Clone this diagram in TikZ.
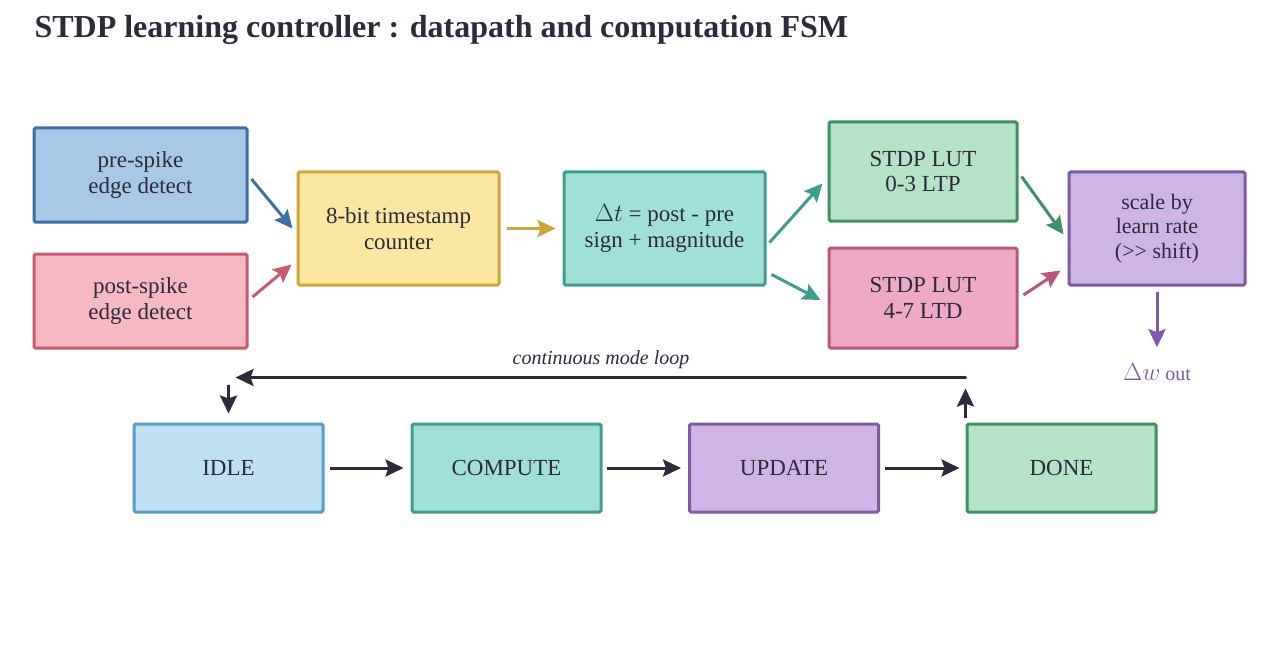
\documentclass[tikz,border=0pt]{standalone}
\usepackage{fontspec}
\setmainfont{Liberation Serif}
\usetikzlibrary{arrows.meta,calc}
\definecolor{txt}{HTML}{2B2B3B}
\definecolor{preF}{HTML}{A7C8E6}\definecolor{preD}{HTML}{3E6EA4}
\definecolor{postF}{HTML}{F6B8C3}\definecolor{postD}{HTML}{C95B6F}
\definecolor{tsF}{HTML}{FBE7A1}\definecolor{tsD}{HTML}{CFA53A}
\definecolor{dtF}{HTML}{A1E0D9}\definecolor{dtD}{HTML}{3F9C8E}
\definecolor{ltpF}{HTML}{B5E3C7}\definecolor{ltpD}{HTML}{3F9062}
\definecolor{ltdF}{HTML}{EEA9C4}\definecolor{ltdD}{HTML}{B5577F}
\definecolor{scF}{HTML}{CFB5E3}\definecolor{scD}{HTML}{7E59A6}
\definecolor{idF}{HTML}{BFE0F2}\definecolor{idD}{HTML}{5B9BC5}
\tikzset{
  box/.style={rectangle, line width=3pt, rounded corners=1.5pt, align=center,
    inner sep=0pt, text=txt, font=\fontsize{23}{25.5}\selectfont},
  conn/.style={line width=3pt, -{Stealth[length=18pt,width=17pt,inset=3pt]}},
}
\begin{document}
\begin{tikzpicture}[x=1pt,y=-1pt]
\useasboundingbox (0,0) rectangle (1279,663);
\node[anchor=west, text=txt, font=\fontsize{32}{35}\selectfont\bfseries] (title) at (31,30) {STDP learning controller : datapath and computation FSM};

\node[box, fill=preF, draw=preD, minimum width=213, minimum height=94] (pre) at (140.5,175) {pre-spike\\edge detect};
\node[box, fill=postF, draw=postD, minimum width=213, minimum height=94] (post) at (140.5,301) {post-spike\\edge detect};
\node[box, fill=tsF, draw=tsD, minimum width=201, minimum height=113] (ts) at (398.5,228.5) {8-bit timestamp\\counter};
\node[box, fill=dtF, draw=dtD, minimum width=201, minimum height=113] (dt) at (664.5,228.5) {$\Delta t$ = post - pre\\sign + magnitude};
\node[box, fill=ltpF, draw=ltpD, minimum width=188, minimum height=99] (ltp) at (923,171.5) {STDP LUT\\0-3 LTP};
\node[box, fill=ltdF, draw=ltdD, minimum width=188, minimum height=100] (ltd) at (923,298) {STDP LUT\\4-7 LTD};
\node[box, fill=scF, draw=scD, minimum width=176, minimum height=113, font=\fontsize{22}{24.5}\selectfont] (sc) at (1157,228.5) {scale by\\learn rate\\(>{}> shift)};
\node[text=scD, font=\fontsize{20}{24}\selectfont, inner sep=1pt] (dw) at (1157,372) {{\fontsize{24}{24}\selectfont$\Delta w$} out};

\node[box, fill=idF, draw=idD, minimum width=189, minimum height=88] (idle) at (228.5,468) {IDLE};
\node[box, fill=dtF, draw=dtD, minimum width=189, minimum height=88] (comp) at (506.5,468) {COMPUTE};
\node[box, fill=scF, draw=scD, minimum width=189, minimum height=88] (upd) at (784,468) {UPDATE};
\node[box, fill=ltpF, draw=ltpD, minimum width=189, minimum height=88] (done) at (1061.5,468) {DONE};

\draw[conn, preD] ($(pre.east)+(3,4)$) -- ($(ts.west)+(-4,0)$);
\draw[conn, postD] ($(post.east)+(4,-4)$) -- ($(ts.west)+(-5,36)$);
\draw[conn, tsD] ($(ts.east)+(6,0)$) -- ($(dt.west)+(-7,0)$);
\draw[conn, dtD] ($(dt.east)+(3,14)$) -- ($(ltp.west)+(-5,12)$);
\draw[conn, dtD] ($(dt.east)+(5,46)$) -- ($(ltd.west)+(-7,2)$);
\draw[conn, ltpD] ($(ltp.east)+(3,5)$) -- ($(sc.west)+(-4,6)$);
\draw[conn, ltdD] ($(ltd.east)+(5,-3)$) -- ($(sc.west)+(-7,42)$);
\draw[conn, scD] ($(sc.south)+(0,5)$) -- ($(dw.north)+(0,-15)$);

\draw[conn, txt] ($(idle.east)+(5,0)$) -- ($(comp.west)+(-7,0)$);
\draw[conn, txt] ($(comp.east)+(4,0)$) -- ($(upd.west)+(-7,0)$);
\draw[conn, txt] ($(upd.east)+(5,0)$) -- ($(done.west)+(-6,0)$);

\coordinate (loopR) at ($(done.north west)+(0,-45)$);
\coordinate (loopL) at ($(idle.north)+(7,-45)$);
\draw[conn, txt] ($(done.north west)+(0,-5)$) -- ($(done.north west)+(0,-34)$);
\draw[conn, txt, line cap=round] (loopR) -- (loopL);
\draw[conn, txt] ($(idle.north)+(0,-38)$) -- ($(idle.north)+(0,-9)$);
\node[text=txt, font=\fontsize{20}{22}\selectfont\itshape] (looplbl) at (601,360) {continuous mode loop};
\end{tikzpicture}
\end{document}
